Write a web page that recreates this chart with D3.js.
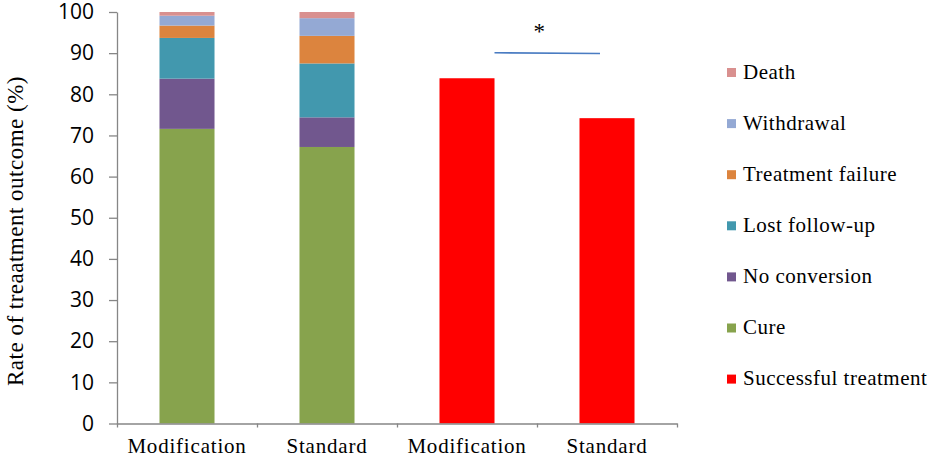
<!DOCTYPE html>
<html>
<head>
<meta charset="utf-8">
<script src="https://cdn.jsdelivr.net/npm/d3@7"></script>
<style>
  body { margin: 0; background: #fff; }
  svg { display: block; }
</style>
</head>
<body>
<div id="chart"></div>
<script>
(function () {
  // === DATA ===
  const categories = ["Modification", "Standard", "Modification", "Standard"];
  const stackKeys = ["Cure", "No conversion", "Lost follow-up", "Treatment failure", "Withdrawal", "Death"];
  // stacked outcome shares (%) for the first two groups
  const cure          = [71.6, 67.2];
  const noConversion  = [12.2, 7.2];
  const lostFollowUp  = [9.9, 13.1];
  const failure       = [3.0, 6.7];
  const withdrawal    = [2.4, 4.3];
  const death         = [0.9, 1.5];
  // successful treatment for the last two groups
  const successful    = [83.9, 74.2];
  const yTicks = [0, 10, 20, 30, 40, 50, 60, 70, 80, 90, 100];
  const legendItems = ["Death", "Withdrawal", "Treatment failure", "Lost follow-up", "No conversion", "Cure", "Successful treatment"];
  const sigLevel = [90.1, 89.9]; // significance bracket, left/right value
  const sigMark = "*";

  const colors = {
    "Cure": "#87a34d",
    "No conversion": "#71578e",
    "Lost follow-up": "#4298ae",
    "Treatment failure": "#dc843e",
    "Withdrawal": "#94a9d4",
    "Death": "#d9908f",
    "Successful treatment": "#ff0000"
  };

  const W = 935, H = 457;
  const svg = d3.select("#chart").append("svg")
    .attr("width", W).attr("height", H);

  // === SCALES ===
  const keys = categories.map((c, i) => "c" + i);
  const x = d3.scaleBand().domain(keys).range([117, 677]).padding(0);
  const y = d3.scaleLinear().domain([0, 100]).range([423.5, 12]);
  const barW = x.bandwidth() * 0.393;
  const axisColor = "#868686";

  // stacked rows
  const stackRows = [0, 1].map(i => ({
    key: keys[i],
    "Cure": cure[i],
    "No conversion": noConversion[i],
    "Lost follow-up": lostFollowUp[i],
    "Treatment failure": failure[i],
    "Withdrawal": withdrawal[i],
    "Death": death[i]
  }));
  const series = d3.stack().keys(stackKeys)(stackRows);

  // === BARS ===
  svg.append("g")
    .selectAll("g")
    .data(series)
    .join("g")
      .attr("fill", d => colors[d.key])
    .selectAll("rect")
    .data(d => d)
    .join("rect")
      .attr("x", d => x(d.data.key) + (x.bandwidth() - barW) / 2)
      .attr("y", d => y(d[1]))
      .attr("width", barW)
      .attr("height", d => y(d[0]) - y(d[1]));

  const succRows = successful.map((v, i) => ({ key: keys[i + 2], value: v }));
  svg.append("g")
    .selectAll("rect")
    .data(succRows)
    .join("rect")
      .attr("x", d => x(d.key) + (x.bandwidth() - barW) / 2)
      .attr("y", d => y(d.value))
      .attr("width", barW)
      .attr("height", d => y(0) - y(d.value))
      .attr("fill", colors["Successful treatment"]);

  // === AXES ===
  const yAxis = svg.append("g")
    .attr("transform", "translate(117,0)")
    .call(d3.axisLeft(y).tickValues(yTicks).tickSize(8).tickSizeOuter(0).tickPadding(15));
  yAxis.selectAll("path, line").attr("stroke", axisColor).attr("stroke-width", 1.3);
  yAxis.selectAll("text")
    .attr("fill", "#000")
    .style("font-family", "'Open Sans', sans-serif")
    .style("font-size", "21px");

  // boundary ticks (Excel style, between categories)
  const xIdx = d3.scaleLinear().domain([0, categories.length]).range(x.range());
  const xTicks = svg.append("g")
    .attr("transform", `translate(0,${y(0)})`)
    .call(d3.axisBottom(xIdx).tickValues(d3.range(categories.length + 1)).tickSize(4).tickSizeOuter(0).tickFormat(""));
  xTicks.selectAll("path, line").attr("stroke", axisColor).attr("stroke-width", 1.3);

  const xAxis = svg.append("g")
    .attr("transform", `translate(0,${y(0)})`)
    .call(d3.axisBottom(x).tickSize(0).tickPadding(14.5).tickFormat((d, i) => categories[i]));
  xAxis.select(".domain").remove();
  xAxis.selectAll("text")
    .attr("fill", "#000")
    .style("font-family", "'Liberation Serif', 'Times New Roman', serif")
    .style("font-size", "21px")
    .style("letter-spacing", "0.8px");

  // Y title
  svg.append("text")
    .attr("transform", "translate(23,231) rotate(-90)")
    .attr("text-anchor", "middle")
    .style("font-family", "'Liberation Serif', 'Times New Roman', serif")
    .style("font-size", "23px")
    .style("letter-spacing", "0.5px")
    .text("Rate of treaatment outcome (%)");

  // === SIGNIFICANCE ===
  const sx1 = x(keys[2]) + (x.bandwidth() + barW) / 2;
  const sx2 = x(keys[3]) + x.bandwidth() / 2 - 7;
  svg.append("line")
    .attr("x1", sx1).attr("y1", y(sigLevel[0]))
    .attr("x2", sx2).attr("y2", y(sigLevel[1]))
    .attr("stroke", "#4a7cc2")
    .attr("stroke-width", 1.6);
  svg.append("text")
    .attr("x", (sx1 + sx2) / 2 - 8)
    .attr("y", 39)
    .attr("text-anchor", "middle")
    .style("font-family", "'Liberation Serif', 'Times New Roman', serif")
    .style("font-size", "23px")
    .text(sigMark);

  // === LEGEND ===
  const legend = svg.append("g").attr("transform", "translate(727,72.5)");
  legendItems.forEach((k, i) => {
    legend.append("rect")
      .attr("x", 0).attr("y", i * 51.1 - 4.5)
      .attr("width", 9).attr("height", 9)
      .attr("fill", colors[k]);
    legend.append("text")
      .attr("x", 16).attr("y", i * 51.1 + 6)
      .style("font-family", "'Liberation Serif', 'Times New Roman', serif")
      .style("font-size", "21px")
      .style("letter-spacing", "0.5px")
      .text(k);
  });
})();
</script>
</body>
</html>
